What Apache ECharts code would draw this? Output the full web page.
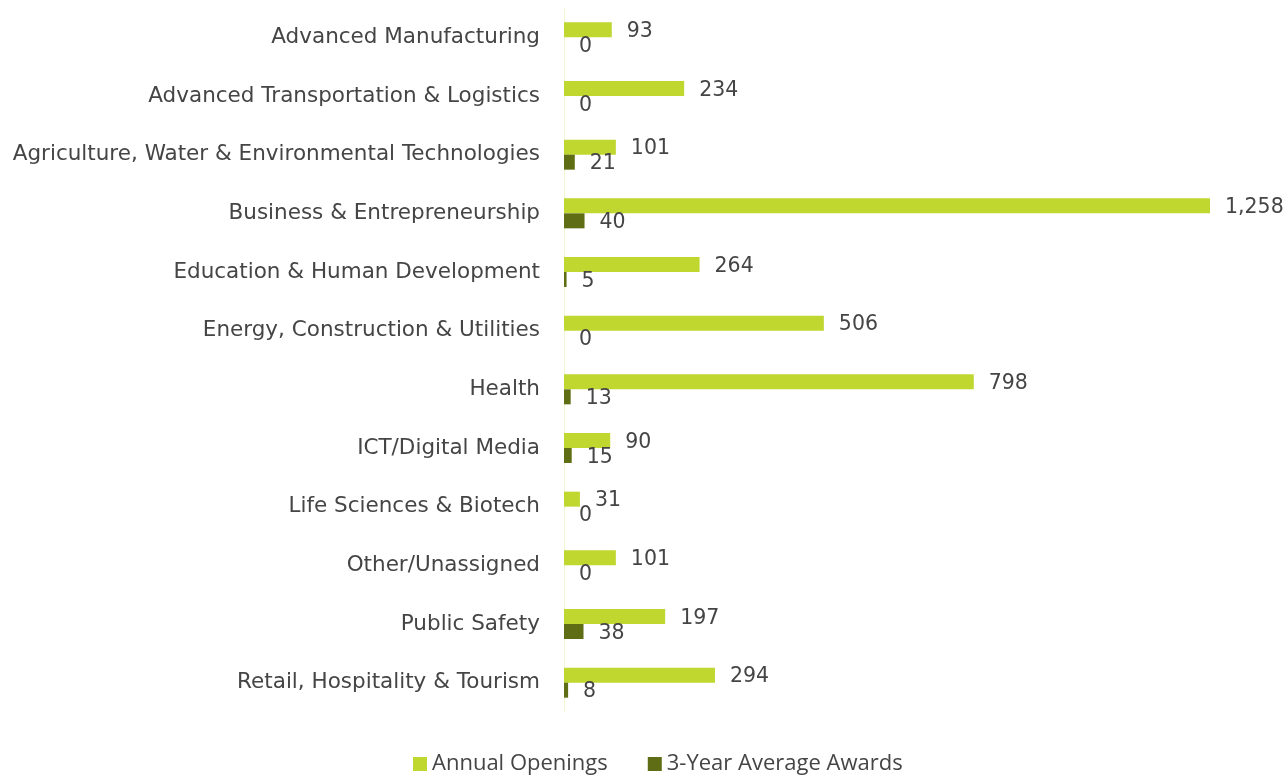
<!DOCTYPE html>
<html>
<head>
<meta charset="utf-8">
<style>
  html, body { margin: 0; padding: 0; background: #fff; }
  #chart { width: 1286px; height: 776px; }
</style>
<script src="https://cdn.jsdelivr.net/npm/echarts@6/dist/echarts.min.js"></script>
</head>
<body>
<div id="chart"></div>
<script>
const categories = [
  'Advanced Manufacturing',
  'Advanced Transportation & Logistics',
  'Agriculture, Water & Environmental Technologies',
  'Business & Entrepreneurship',
  'Education & Human Development',
  'Energy, Construction & Utilities',
  'Health',
  'ICT/Digital Media',
  'Life Sciences & Biotech',
  'Other/Unassigned',
  'Public Safety',
  'Retail, Hospitality & Tourism'
]
const annualOpenings = [93, 234, 101, 1258, 264, 506, 798, 90, 31, 101, 197, 294]
const avgAwards = [0, 0, 21, 40, 5, 0, 13, 15, 0, 0, 38, 8]

const textFont = 'DejaVu Sans'
const textColor = '#454545'

const chart = echarts.init(document.getElementById('chart'))

const barLabel = {
  show: true,
  position: 'right',
  distance: 15,
  offset: [0, 2],
  color: textColor,
  fontFamily: textFont,
  fontSize: 20.5,
  formatter: p => p.value.toLocaleString('en-US')
}

chart.setOption({
  animation: false,
  grid: {
    left: 564,
    right: 76,
    top: 8,
    bottom: 64
  },
  legend: {
    bottom: -4,
    left: 408,
    itemWidth: 14,
    itemHeight: 14,
    itemGap: 40,
    icon: 'rect',
    textStyle: {
      color: textColor,
      fontFamily: 'Open Sans',
      fontSize: 22
    },
    data: ['Annual Openings', '3-Year Average Awards']
  },
  xAxis: {
    type: 'value',
    min: 0,
    max: 1258,
    show: false,
    splitLine: { show: false }
  },
  yAxis: {
    type: 'category',
    inverse: true,
    data: categories,
    axisTick: { show: false },
    axisLine: { lineStyle: { color: '#eef4d6', width: 1 } },
    axisLabel: {
      margin: 24,
      color: textColor,
      fontFamily: textFont,
      fontSize: 21.5,
      padding: [2, 0, 0, 0]
    }
  },
  series: [
    {
      name: 'Annual Openings',
      type: 'bar',
      data: annualOpenings,
      barWidth: 15,
      barGap: '0%',
      itemStyle: { color: '#c0d730' },
      label: barLabel
    },
    {
      name: '3-Year Average Awards',
      type: 'bar',
      data: avgAwards,
      barWidth: 15,
      itemStyle: { color: '#5f6e14' },
      label: barLabel
    }
  ]
})
</script>
</body>
</html>
